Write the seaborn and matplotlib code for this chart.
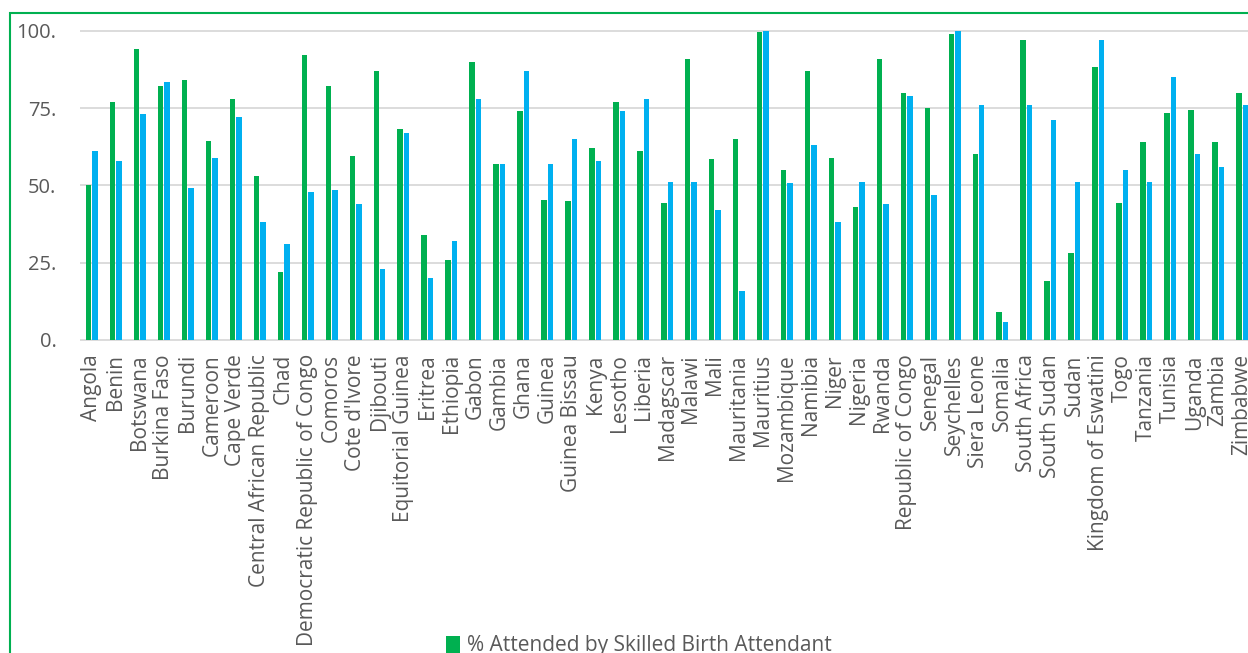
import matplotlib
matplotlib.use("Agg")
import matplotlib.pyplot as plt
from matplotlib.patches import Rectangle, Patch
import pandas as pd
import seaborn as sns

countries = [
    "Angola", "Benin", "Botswana", "Burkina Faso", "Burundi", "Cameroon",
    "Cape Verde", "Central African Republic", "Chad",
    "Democratic Republic of Congo", "Comoros", "Cote d'Ivore", "Djibouti",
    "Equitorial Guinea", "Eritrea", "Ethiopia", "Gabon", "Gambia", "Ghana",
    "Guinea", "Guinea Bissau", "Kenya", "Lesotho", "Liberia", "Madagscar",
    "Malawi", "Mali", "Mauritania", "Mauritius", "Mozambique", "Namibia",
    "Niger", "Nigeria", "Rwanda", "Republic of Congo", "Senegal",
    "Seychelles", "Siera Leone", "Somalia", "South Africa", "South Sudan",
    "Sudan", "Kingdom of Eswatini", "Togo", "Tanzania", "Tunisia", "Uganda",
    "Zambia", "Zimbabwe",
]

skilled_birth = [
    50, 77, 94, 82, 84, 64.5, 78, 53, 22,
    92, 82, 59.5, 87,
    68.2, 34, 26, 90, 57, 74,
    45.2, 45, 62, 77, 61, 44.2,
    91, 58.5, 65, 99.6, 55, 87,
    59, 43, 91, 80, 75,
    99, 60, 9.2, 97, 19,
    28, 88.2, 44.4, 64, 73.5, 74.2,
    64, 80,
]

antenatal_care = [
    61, 58, 73.2, 83.4, 49, 59, 72, 38, 31,
    48, 48.6, 44, 23,
    66.8, 20, 32, 78, 57, 87,
    57, 65, 58, 74, 78, 51,
    51, 42, 16, 100, 50.6, 63,
    38, 51, 44, 79, 47,
    100, 76, 5.7, 76, 71,
    51, 97, 55, 51, 85, 60,
    56, 76,
]

series_names = ["% Attended by Skilled Birth Attendant", "% Antenatal Care Coverage"]
y_ticks = [0, 25, 50, 75, 100]
y_tick_labels = ["0.", "25.", "50.", "75.", "100."]

green = "#00B050"
blue = "#00B0F0"
text_grey = "#595959"

df = pd.DataFrame({
    "country": countries * 2,
    "series": [series_names[0]] * len(countries) + [series_names[1]] * len(countries),
    "value": skilled_birth + antenatal_care,
})

sns.set_theme(style="white")
plt.rcParams["font.family"] = ["Open Sans", "DejaVu Sans"]

W, H = 1248, 653
fig = plt.figure(figsize=(W / 100, H / 100), dpi=100)

# plot area in pixel terms: 0 sits at y=340, 100 at y=31; axis spans 49 slots of ~24px
px_per_unit = (340 - 30.7) / 100
y_lo, y_hi = -1, 105
ax_left, ax_right = 80, 80 + 49 * 23.96
ax_bottom_px = 340 + (0 - y_lo) * px_per_unit
ax_height_px = (y_hi - y_lo) * px_per_unit
ax = fig.add_axes([ax_left / W, 1 - ax_bottom_px / H,
                   (ax_right - ax_left) / W, ax_height_px / H])

sns.barplot(
    data=df, x="country", y="value", hue="series",
    order=countries, hue_order=series_names,
    palette=[green, blue], saturation=1, width=0.54, gap=0.15,
    linewidth=0, errorbar=None, legend=False, ax=ax,
)

ax.set_xlim(-0.5, len(countries) - 0.5)
ax.set_ylim(y_lo, y_hi)
ax.set_yticks(y_ticks)
ax.set_yticklabels(y_tick_labels)
ax.yaxis.grid(True, color="#D9D9D9", linewidth=1.3)
ax.set_axisbelow(True)
for s in ax.spines.values():
    s.set_visible(False)
ax.set_xlabel("")
ax.set_ylabel("")
ax.tick_params(axis="y", length=0, pad=17, labelsize=14.5, labelcolor=text_grey)
ax.tick_params(axis="x", length=0, pad=8, labelsize=15, labelcolor=text_grey,
               labelrotation=90)

# chart frame
fig.add_artist(Rectangle((10 / W, -0.1), 1.2, 1.1 - 13 / H,
                         transform=fig.transFigure, fill=False,
                         edgecolor=green, linewidth=1.5))

fig.legend(handles=[Patch(facecolor=green, edgecolor="none")],
           labels=[series_names[0]], frameon=False,
           loc="center left", bbox_to_anchor=(438 / W, 1 - 646 / H),
           handlelength=0.65, handleheight=0.9, handletextpad=0.35,
           fontsize=15, labelcolor=text_grey, borderaxespad=0)

fig.savefig("out.png", dpi=100)
